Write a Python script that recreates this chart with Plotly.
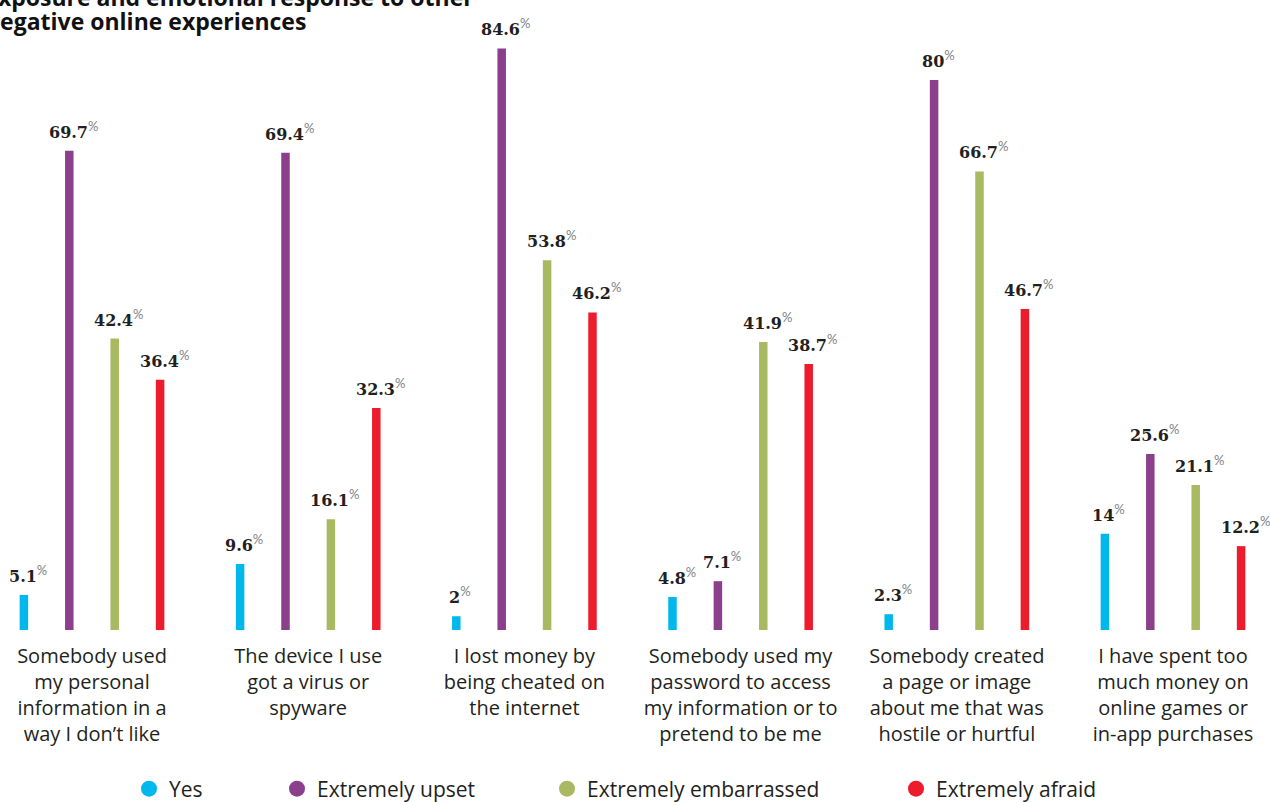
import plotly.graph_objects as go

# Survey items (one group of bars each)
categories = [
    "Somebody used<br>my personal<br>information in a<br>way I don\u2019t like",
    "The device I use<br>got a virus or<br>spyware",
    "I lost money by<br>being cheated on<br>the internet",
    "Somebody used my<br>password to access<br>my information or to<br>pretend to be me",
    "Somebody created<br>a page or image<br>about me that was<br>hostile or hurtful",
    "I have spent too<br>much money on<br>online games or<br>in-app purchases",
]

series_names = ["Yes", "Extremely upset", "Extremely embarrassed", "Extremely afraid"]

yes_values = [5.1, 9.6, 2, 4.8, 2.3, 14]
upset_values = [69.7, 69.4, 84.6, 7.1, 80, 25.6]
embarrassed_values = [42.4, 16.1, 53.8, 41.9, 66.7, 21.1]
afraid_values = [36.4, 32.3, 46.2, 38.7, 46.7, 12.2]

series_values = [yes_values, upset_values, embarrassed_values, afraid_values]
series_colors = ["#00b8eb", "#8b3f8c", "#a9b962", "#ec1c2d"]

title_lines = ["Exposure and emotional response to other", "negative online experiences"]

# Layout constants (pixels / axis units)
W, H = 1270, 802
BASE_PX = 630            # pixel row of the zero line
PX_PER_PCT = 6.875
GROUP_PX = 216.2         # distance between group centres
FIRST_CENTER_PX = 92
BAR_STEP = 45.4 / GROUP_PX
BAR_W = 8.5 / GROUP_PX
SANS = "Open Sans"
SERIF = "DejaVu Serif"
TEXT_COLOR = "#231f20"

xs = list(range(len(categories)))
fig = go.Figure()

annotations = []
for i, (name, vals, col) in enumerate(zip(series_names, series_values, series_colors)):
    centre_off = (i - 1.5) * BAR_STEP
    fig.add_trace(go.Bar(
        x=xs, y=vals, name=name,
        width=BAR_W, offset=centre_off - BAR_W / 2,
        marker=dict(color=col, line=dict(width=0)),
        showlegend=False, hoverinfo="skip",
    ))
    # legend entry drawn as a circle, each in its own legend box
    fig.add_trace(go.Scatter(
        x=[None], y=[None], mode="markers", name=name,
        marker=dict(color=col, size=16, symbol="circle"),
        legend="legend" if i == 0 else f"legend{i + 1}",
    ))
    for x, v in zip(xs, vals):
        label = f"{v:g}"
        annotations.append(dict(
            x=x + centre_off, y=v, xref="x", yref="y",
            text=(f"<b>{label}</b><sup><span style='color:#808285;font-family:Lato;"
                  f"font-weight:normal;font-size:13px'>%</span></sup>"),
            showarrow=False, xanchor="center", yanchor="bottom",
            xshift=4, yshift=7,
            font=dict(family=SERIF, size=16, color=TEXT_COLOR),
        ))

# Title (runs off the top-left edge of the page)
for k, line in enumerate(title_lines):
    annotations.append(dict(
        x=-17 / W, xref="paper", xanchor="left",
        y=1 - (-3 + 24 * k) / BASE_PX, yref="paper", yanchor="middle",
        text=f"<b>{line}</b>", showarrow=False,
        font=dict(family="Open Sans", size=23, color="#111111", weight=800),
    ))

legend_px = [146, 294, 564, 913]
legends = {}
for i, px in enumerate(legend_px):
    key = "legend" if i == 0 else f"legend{i + 1}"
    legends[key] = dict(
        x=(px - 17) / W, xanchor="left",
        y=-(789 - BASE_PX) / BASE_PX, yanchor="middle",
        orientation="h", bgcolor="rgba(0,0,0,0)",
        font=dict(family=SANS, size=21, color=TEXT_COLOR, weight=400),
        itemclick=False, itemdoubleclick=False,
    )

x0 = -FIRST_CENTER_PX / GROUP_PX
fig.update_layout(
    width=W, height=H,
    margin=dict(l=0, r=0, t=0, b=H - BASE_PX, pad=0, autoexpand=False),
    paper_bgcolor="white", plot_bgcolor="white",
    barmode="overlay",
    xaxis=dict(
        range=[x0, x0 + W / GROUP_PX], automargin=False,
        tickmode="array", tickvals=xs, ticktext=categories,
        showgrid=False, zeroline=False, showline=False, ticks="",
        tickfont=dict(family=SANS, size=20, color=TEXT_COLOR, weight=400),
        ticklabelstandoff=12,
    ),
    yaxis=dict(
        range=[0, BASE_PX / PX_PER_PCT], automargin=False,
        visible=False, showgrid=False, zeroline=False,
    ),
    annotations=annotations,
    **legends,
)

fig.write_html("out.html")
